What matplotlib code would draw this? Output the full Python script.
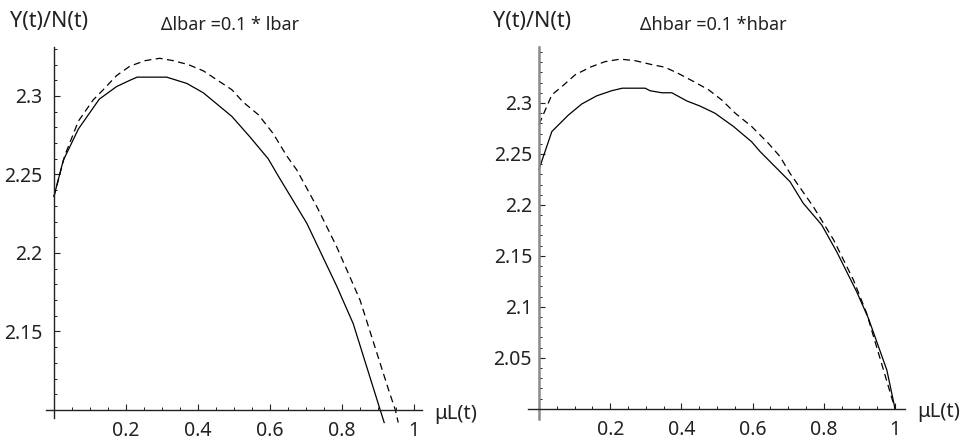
import matplotlib
matplotlib.use("Agg")
import matplotlib.pyplot as plt
from matplotlib.ticker import FixedLocator, FixedFormatter
import numpy as np

plt.rcParams['lines.scale_dashes'] = False

# ---------------- data ----------------
# Left panel: Δlbar = 0.1*lbar
left_solid_x = [0.0, 0.026, 0.068, 0.126, 0.174, 0.211, 0.231, 0.313, 0.369, 0.415,
                0.494, 0.544, 0.595, 0.623, 0.702, 0.785, 0.831, 0.906, 0.917]
left_solid_y = [2.236, 2.259, 2.279, 2.298, 2.306, 2.310, 2.312, 2.312, 2.308, 2.302,
                2.287, 2.274, 2.260, 2.249, 2.219, 2.179, 2.155, 2.100, 2.092]

left_dash_x = [0.0, 0.03, 0.068, 0.109, 0.137, 0.174, 0.211, 0.253, 0.294, 0.331,
               0.373, 0.415, 0.461, 0.494, 0.526, 0.568, 0.609, 0.646, 0.674, 0.730,
               0.785, 0.850, 0.929, 0.948, 0.956]
left_dash_y = [2.236, 2.262, 2.284, 2.2975, 2.304, 2.313, 2.319, 2.3225, 2.324, 2.3225,
               2.320, 2.316, 2.309, 2.304, 2.296, 2.288, 2.276, 2.262, 2.253, 2.2295,
               2.204, 2.170, 2.113, 2.100, 2.092]

# Right panel: Δhbar = 0.1*hbar
right_solid_x = [0.0, 0.036, 0.082, 0.120, 0.162, 0.204, 0.234, 0.298, 0.312, 0.345,
                 0.373, 0.415, 0.452, 0.494, 0.546, 0.597, 0.621, 0.705, 0.742, 0.794,
                 0.836, 0.892, 0.925, 0.977, 1.0]
right_solid_y = [2.235, 2.272, 2.288, 2.299, 2.307, 2.312, 2.3145, 2.3145, 2.312, 2.310,
                 2.310, 2.302, 2.297, 2.290, 2.277, 2.262, 2.2523, 2.2228, 2.2017, 2.1804,
                 2.1542, 2.115, 2.089, 2.038, 2.0]

right_dash_x = [0.0, 0.036, 0.064, 0.101, 0.143, 0.185, 0.228, 0.270, 0.312, 0.354,
                0.391, 0.429, 0.476, 0.513, 0.551, 0.597, 0.644, 0.677, 0.705, 0.771,
                0.827, 0.883, 0.920, 1.0]
right_dash_y = [2.279, 2.308, 2.316, 2.3275, 2.335, 2.3405, 2.343, 2.3415, 2.338, 2.335,
                2.329, 2.322, 2.313, 2.303, 2.290, 2.277, 2.2605, 2.2474, 2.231, 2.198,
                2.166, 2.1265, 2.094, 2.0]

x_major = [0.2, 0.4, 0.6, 0.8, 1.0]
x_major_labels = ["0.2", "0.4", "0.6", "0.8", "1"]

left_y_major = [2.15, 2.2, 2.25, 2.3]
left_y_labels = ["2.15", "2.2", "2.25", "2.3"]
right_y_major = [2.05, 2.1, 2.15, 2.2, 2.25, 2.3]
right_y_labels = ["2.05", "2.1", "2.15", "2.2", "2.25", "2.3"]

y_label_text = "Y(t)/N(t)"
x_label_text = "\u03bcL(t)"
left_title = "\u0394lbar =0.1 * lbar"
right_title = "\u0394hbar =0.1 *hbar"

FONT = ['Noto Sans', 'DejaVu Sans']
STRETCH = 'extra-condensed'
W, H = 965, 443

fig = plt.figure(figsize=(W / 100, H / 100), dpi=100)


def make_axes(px_left, px_right, px_top, px_bottom, xlim, ylim, y_origin,
              sx, sy, dx, dy, ymaj, ylab, ymin_minor, ymax_minor, ylab_pad,
              yaxis_color, yaxis_lw):
    ax = fig.add_axes([px_left / W, (H - px_bottom) / H,
                       (px_right - px_left) / W, (px_bottom - px_top) / H])
    ax.set_xlim(*xlim)
    ax.set_ylim(*ylim)
    for s in ['top', 'right']:
        ax.spines[s].set_visible(False)
    ax.spines['left'].set_position(('data', 0.0))
    ax.spines['bottom'].set_position(('data', y_origin))
    ax.spines['left'].set_color(yaxis_color)
    ax.spines['left'].set_linewidth(yaxis_lw)
    ax.spines['bottom'].set_linewidth(1.0)
    ax.spines['bottom'].set_color('#222222')
    ax.patch.set_visible(False)

    ax.plot(sx, sy, color='black', lw=0.9, solid_joinstyle='round', clip_on=False)
    ax.plot(dx, dy, color='black', lw=0.9, dashes=(5.0, 3.2), clip_on=False)

    ax.xaxis.set_major_locator(FixedLocator(x_major))
    ax.xaxis.set_major_formatter(FixedFormatter(x_major_labels))
    xminor = [round(v, 2) for v in np.arange(0.05, 1.0001, 0.05) if round(v, 2) not in x_major]
    ax.xaxis.set_minor_locator(FixedLocator(xminor))

    ax.yaxis.set_major_locator(FixedLocator(ymaj))
    ax.yaxis.set_major_formatter(FixedFormatter(ylab))
    yminor = [round(v, 2) for v in np.arange(ymin_minor, ymax_minor + 1e-9, 0.01)
              if all(abs(round(v, 2) - m) > 1e-6 for m in ymaj)]
    ax.yaxis.set_minor_locator(FixedLocator(yminor))

    ax.tick_params(axis='both', which='major', direction='in', length=4, width=0.8,
                   color='#222222', labelsize=14, labelcolor='#222222')
    ax.tick_params(axis='both', which='minor', direction='in', length=2.2, width=0.7,
                   color='#222222')
    ax.tick_params(axis='x', which='major', pad=8)
    ax.tick_params(axis='y', which='major', pad=ylab_pad)
    for lab in ax.get_xticklabels() + ax.get_yticklabels():
        lab.set_family(FONT)
        lab.set_stretch(STRETCH)
    return ax


axL = make_axes(46, 422, 47, 418, (-0.022, 1.022), (2.0949, 2.3312), 2.10,
                left_solid_x, left_solid_y, left_dash_x, left_dash_y,
                left_y_major, left_y_labels, 2.11, 2.33, 8.5, '#222222', 1.0)
axR = make_axes(528, 905, 47, 419, (-0.031, 1.028), (1.990, 2.3549), 2.0,
                right_solid_x, right_solid_y, right_dash_x, right_dash_y,
                right_y_major, right_y_labels, 2.01, 2.35, 5.0, '#8a8a8a', 1.8)

# texts in figure pixel positions
def ftext(xp, yp, s, size, ha='left'):
    fig.text(xp / W, 1 - yp / H, s, fontsize=size, ha=ha, va='center',
             family=FONT, stretch=STRETCH, color='#222222')

ftext(10, 22, y_label_text, 15.5)
ftext(493, 22, y_label_text, 15.5)
ftext(230, 25, left_title, 13, ha='center')
ftext(713, 25, right_title, 13, ha='center')
ftext(434, 414, x_label_text, 14.5)
ftext(917, 412, x_label_text, 14.5)

fig.savefig("out.png", dpi=100)
